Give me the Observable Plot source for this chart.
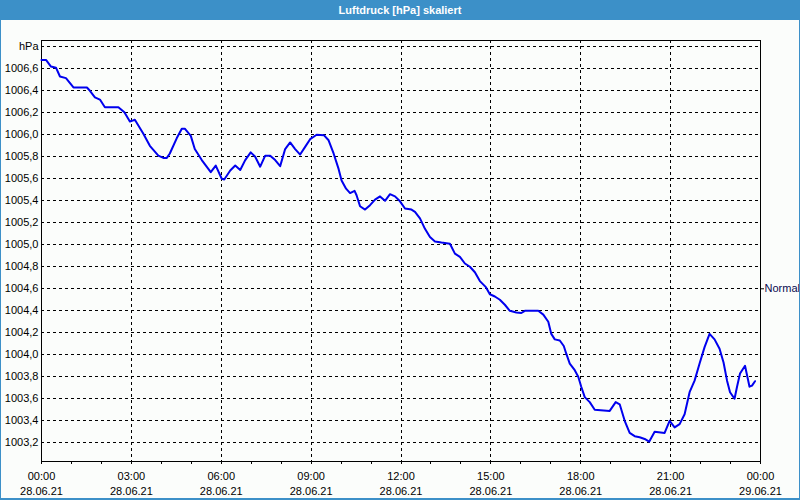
<!DOCTYPE html>
<html>
<head>
<meta charset="utf-8">
<script src="https://cdn.jsdelivr.net/npm/d3@7"></script>
<script src="https://cdn.jsdelivr.net/npm/@observablehq/plot@0.6"></script>
<style>
  html, body { margin: 0; padding: 0; background: #fbfdfb; }
  #win { position: relative; width: 800px; height: 500px; overflow: hidden; background: #fbfdfb; }
  #title { position: absolute; left: 0; top: 0; width: 800px; height: 20px; background: #3c90c8; color: #fff;
           font: bold 11px "Liberation Sans", Arial, sans-serif; line-height: 20px; text-align: center; }
  #chart { position: absolute; left: 0; top: 20px; }
  .edge { position: absolute; background: #3c90c8; }
</style>
</head>
<body>
<div id="win">
  <div id="title">Luftdruck [hPa] skaliert</div>
  <div id="chart"></div>
  <div class="edge" style="left:0;top:20px;width:1px;height:480px"></div>
  <div class="edge" style="left:799px;top:20px;width:1px;height:480px"></div>
  <div class="edge" style="left:0;top:498px;width:800px;height:2px"></div>
</div>
<script>
// minutes since 28.06.21 00:00
const minutes = [0, 9, 19, 29, 37, 49, 64, 91, 97, 107, 117, 127, 154, 166, 177, 187, 204, 217, 234, 244,
  251, 257, 271, 281, 287, 299, 307, 321, 339, 349, 361, 366, 378, 388, 398, 408, 419, 428, 438, 448,
  458, 468, 478, 488, 498, 508, 518, 528, 538, 551, 566, 575, 585, 595, 601, 610, 618, 627, 631, 638,
  648, 658, 668, 678, 688, 698, 708, 718, 728, 741, 748, 758, 768, 778, 788, 801, 818, 828, 838, 848,
  858, 868, 878, 890, 898, 908, 918, 928, 938, 951, 961, 968, 995, 1005, 1015, 1021, 1028, 1038, 1046, 1051,
  1058, 1068, 1075, 1081, 1088, 1098, 1108, 1138, 1150, 1158, 1168, 1178, 1188, 1198, 1208, 1217, 1228, 1248, 1258, 1268,
  1278, 1288, 1298, 1308, 1318, 1328, 1338, 1348, 1358, 1366, 1373, 1379, 1388, 1393, 1399, 1409, 1418, 1423, 1429];
const hpa = [1006.68, 1006.68, 1006.62, 1006.61, 1006.53, 1006.515, 1006.43, 1006.43, 1006.40, 1006.34, 1006.32, 1006.25, 1006.25, 1006.205, 1006.12, 1006.136, 1006.01, 1005.90, 1005.81, 1005.79,
  1005.79, 1005.83, 1005.97, 1006.055, 1006.055, 1005.99, 1005.87, 1005.77, 1005.66, 1005.72, 1005.60, 1005.594, 1005.675, 1005.72, 1005.68, 1005.77, 1005.84, 1005.80, 1005.71, 1005.81,
  1005.81, 1005.77, 1005.715, 1005.87, 1005.93, 1005.87, 1005.82, 1005.89, 1005.96, 1006.00, 1005.995, 1005.95, 1005.83, 1005.69, 1005.585, 1005.51, 1005.47, 1005.49, 1005.45, 1005.35,
  1005.32, 1005.36, 1005.41, 1005.44, 1005.40, 1005.46, 1005.44, 1005.395, 1005.33, 1005.32, 1005.30, 1005.24, 1005.145, 1005.07, 1005.03, 1005.02, 1005.01, 1004.92, 1004.89, 1004.83,
  1004.80, 1004.75, 1004.67, 1004.615, 1004.55, 1004.53, 1004.50, 1004.455, 1004.40, 1004.385, 1004.38, 1004.40, 1004.40, 1004.365, 1004.30, 1004.19, 1004.14, 1004.13, 1004.08, 1004.01,
  1003.92, 1003.86, 1003.80, 1003.71, 1003.615, 1003.57, 1003.50, 1003.49, 1003.57, 1003.55, 1003.40, 1003.29, 1003.26, 1003.25, 1003.235, 1003.21, 1003.30, 1003.29, 1003.40, 1003.34,
  1003.37, 1003.46, 1003.66, 1003.765, 1003.92, 1004.07, 1004.19, 1004.14, 1004.055, 1003.93, 1003.765, 1003.66, 1003.60, 1003.71, 1003.83, 1003.90, 1003.71, 1003.72, 1003.76];

const xMajorTicks = [0, 180, 360, 540, 720, 900, 1080, 1260, 1440];
const xTickTimes = ["00:00", "03:00", "06:00", "09:00", "12:00", "15:00", "18:00", "21:00", "00:00"];
const xTickDates = ["28.06.21", "28.06.21", "28.06.21", "28.06.21", "28.06.21", "28.06.21", "28.06.21", "28.06.21", "29.06.21"];
const xMinorTicks = d3.range(0, 1441, 60);
const yTicks = [1003.2, 1003.4, 1003.6, 1003.8, 1004.0, 1004.2, 1004.4, 1004.6, 1004.8, 1005.0, 1005.2, 1005.4, 1005.6, 1005.8, 1006.0, 1006.2, 1006.4, 1006.6, 1006.8];
const yUnitLabel = "hPa";
const normalValue = [1004.6];
const normalLabel = "Normal";

const data = minutes.map((m, i) => ({m, v: hpa[i]}));
const yFmt = d => Math.abs(d - 1006.8) < 1e-6 ? yUnitLabel : d.toFixed(1).replace(".", ",");
const xFmt = d => { const i = xMajorTicks.indexOf(d); return xTickTimes[i] + "\n" + xTickDates[i]; };

const chart = Plot.plot({
  width: 800, height: 480,
  marginLeft: 41, marginRight: 40, marginTop: 20, marginBottom: 39,
  style: {fontFamily: "'Liberation Sans', Arial, sans-serif", fontSize: "11px", background: "transparent", color: "black", overflow: "visible"},
  x: {domain: [0, 1440], axis: null},
  y: {domain: [1003.03, 1006.857], axis: null},
  marks: [
    Plot.ruleY(yTicks, {stroke: "black", strokeDasharray: "3,3", shapeRendering: "crispEdges"}),
    Plot.ruleX(xMajorTicks.slice(1, -1), {stroke: "black", strokeDasharray: "3,3", shapeRendering: "crispEdges"}),
    Plot.frame({stroke: "black", shapeRendering: "crispEdges"}),
    Plot.axisX({ticks: xMinorTicks, tickSize: 3, tickFormat: () => "", label: null, stroke: "black", shapeRendering: "crispEdges"}),
    Plot.axisX({ticks: xMajorTicks, tickSize: 0, tickPadding: 8, tickFormat: xFmt, label: null, lineHeight: 1.33, fill: "black"}),
    Plot.axisY({ticks: yTicks, tickSize: 0, tickPadding: 3, tickFormat: yFmt, label: null, fill: "black"}),
    Plot.axisY({anchor: "right", ticks: normalValue, tickSize: 3, tickPadding: 1, tickFormat: () => normalLabel, label: null, fill: "#0a0a50", stroke: "black"}),
    Plot.line(data, {x: "m", y: "v", stroke: "#0000ee", strokeWidth: 2})
  ]
});
document.getElementById("chart").appendChild(chart);
</script>
</body>
</html>
